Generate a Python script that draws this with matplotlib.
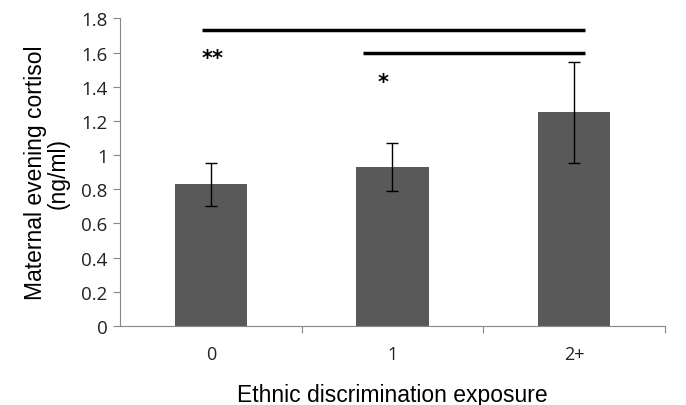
import numpy as np
import matplotlib.pyplot as plt

categories = ['0', '1', '2+']
means = [0.83, 0.93, 1.25]
errors = [0.125, 0.14, 0.295]
yticks = [0, 0.2, 0.4, 0.6, 0.8, 1, 1.2, 1.4, 1.6, 1.8]
ytick_labels = ['0', '0.2', '0.4', '0.6', '0.8', '1', '1.2', '1.4', '1.6', '1.8']

fig = plt.figure(figsize=(6.86, 4.06), dpi=100)
ax = fig.add_axes([0.175, 0.1946, 0.794, 0.7574])

x = np.arange(len(categories))
ax.bar(x, means, width=0.4, color='#595959', zorder=2)
ax.errorbar(x, means, yerr=errors, fmt='none', ecolor='black',
            elinewidth=1, capsize=4, capthick=1, zorder=3)

# significance bars
ax.plot([-0.05, 2.06], [1.733, 1.733], color='black', lw=2.5, solid_capstyle='butt')
ax.plot([0.84, 2.06], [1.597, 1.597], color='black', lw=2.5, solid_capstyle='butt')
ax.text(0.01, 1.57, '**', ha='center', va='center', fontsize=15, fontweight='bold')
ax.text(0.95, 1.43, '*', ha='center', va='center', fontsize=15, fontweight='bold')

ax.set_xlim(-0.5, 2.5)
ax.set_ylim(0, 1.8)
ax.set_yticks(yticks)
ax.set_yticklabels(ytick_labels, fontsize=13.5, family='Open Sans', color='#222222')
ax.set_xticks([0.5, 1.5, 2.5])
ax.set_xticklabels([])
ax.set_xticks(x, minor=True)
ax.set_xticklabels(categories, minor=True, fontsize=13, family='Open Sans', color='#222222')
ax.tick_params(axis='x', which='minor', length=0, pad=14)
ax.tick_params(axis='x', which='major', length=5, color='#888888', direction='out')
ax.tick_params(axis='y', length=5, color='#888888', direction='out', pad=4)

for s in ['top', 'right']:
    ax.spines[s].set_visible(False)
for s in ['left', 'bottom']:
    ax.spines[s].set_color('#888888')

ax.set_ylabel('Maternal evening cortisol\n(ng/ml)', fontsize=16.5, family='Liberation Sans',
              linespacing=1.0, labelpad=8)
ax.set_xlabel('Ethnic discrimination exposure', fontsize=16.5, family='Liberation Sans', labelpad=14)

fig.savefig('out.png', dpi=100)
